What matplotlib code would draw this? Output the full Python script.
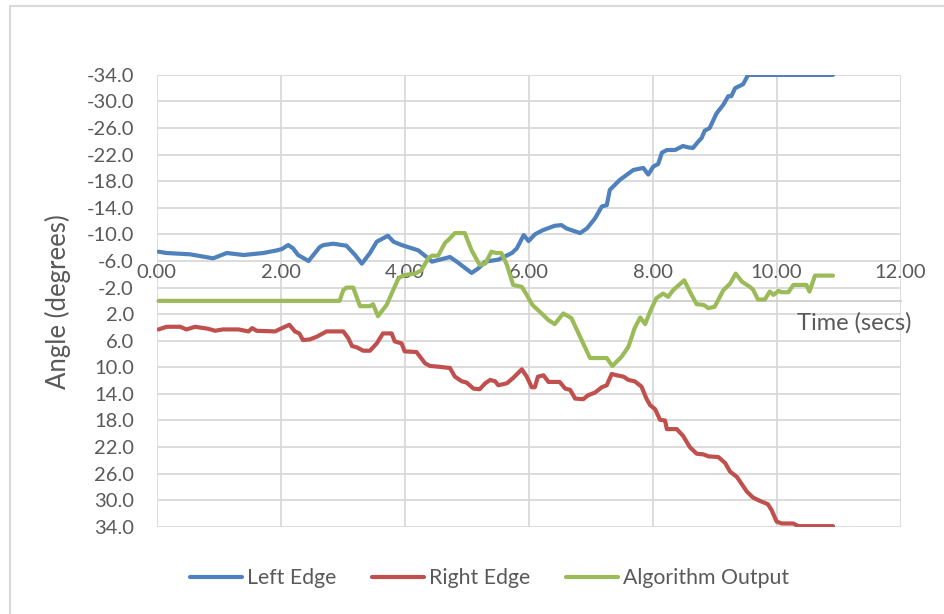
import numpy as np
import matplotlib
matplotlib.use("Agg")
import matplotlib.pyplot as plt
from matplotlib.lines import Line2D

# values (time in s, angle in degrees)
left_t = [0.03, 0.16, 0.54, 0.91, 1.13, 1.40, 1.72, 1.94, 2.02, 2.12, 2.20, 2.28,
          2.45, 2.63, 2.69, 2.85, 3.06, 3.20, 3.31, 3.44, 3.55, 3.73, 3.82, 3.95,
          4.22, 4.38, 4.44, 4.65, 4.73, 4.84, 5.08, 5.19, 5.30, 5.51, 5.73, 5.81,
          5.92, 6.00, 6.10, 6.22, 6.42, 6.53, 6.61, 6.83, 6.94, 7.07, 7.18, 7.26,
          7.31, 7.47, 7.69, 7.85, 7.93, 8.01, 8.09, 8.15, 8.23, 8.36, 8.49, 8.57,
          8.65, 8.74, 8.79, 8.84, 8.92, 9.03, 9.14, 9.22, 9.27, 9.33, 9.46, 9.54,
          10.91]
left_deg = [-7.4, -7.2, -7.0, -6.4, -7.2, -6.9, -7.2, -7.6, -7.8, -8.4, -7.9, -6.9,
            -6.0, -8.1, -8.4, -8.6, -8.3, -6.9, -5.6, -7.2, -8.9, -9.8, -8.9, -8.4,
            -7.6, -6.4, -5.9, -6.4, -6.6, -5.9, -4.2, -4.9, -5.9, -6.2, -7.2, -7.9,
            -9.9, -9.0, -10.0, -10.6, -11.3, -11.4, -10.9, -10.2, -10.9, -12.4, -14.2, -14.4,
            -16.7, -18.2, -19.7, -20.0, -19.0, -20.2, -20.6, -22.3, -22.7, -22.7, -23.3, -23.1,
            -23.0, -24.0, -24.5, -25.6, -26.0, -28.2, -29.5, -30.8, -30.8, -32.0, -32.6, -34.0,
            -34.0]

right_t = [0.03, 0.16, 0.38, 0.48, 0.62, 0.83, 0.94, 1.07, 1.32, 1.48, 1.54, 1.61,
           1.91, 2.02, 2.14, 2.23, 2.30, 2.36, 2.47, 2.58, 2.74, 3.01, 3.09, 3.15,
           3.23, 3.33, 3.44, 3.55, 3.65, 3.79, 3.84, 3.95, 4.00, 4.19, 4.33, 4.41,
           4.54, 4.73, 4.81, 4.92, 5.00, 5.11, 5.21, 5.30, 5.38, 5.46, 5.51, 5.65,
           5.75, 5.89, 5.97, 6.05, 6.10, 6.15, 6.24, 6.32, 6.50, 6.59, 6.67, 6.75,
           6.88, 6.96, 7.07, 7.18, 7.26, 7.34, 7.42, 7.53, 7.61, 7.71, 7.82, 7.90,
           7.96, 8.04, 8.12, 8.20, 8.23, 8.39, 8.49, 8.60, 8.71, 8.82, 8.90, 9.06,
           9.17, 9.25, 9.36, 9.44, 9.52, 9.62, 9.73, 9.86, 9.92, 10.00, 10.08, 10.27,
           10.35, 10.91]
right_deg = [4.3, 3.9, 3.9, 4.3, 3.9, 4.2, 4.5, 4.3, 4.3, 4.6, 4.1, 4.5,
             4.6, 4.1, 3.6, 4.6, 4.9, 5.9, 5.8, 5.4, 4.6, 4.6, 5.6, 6.8,
             7.0, 7.5, 7.5, 6.4, 4.9, 4.9, 6.1, 6.4, 7.6, 7.7, 9.4, 9.8,
             9.9, 10.1, 11.4, 12.1, 12.3, 13.2, 13.3, 12.4, 11.9, 12.1, 12.7, 12.4,
             11.6, 10.3, 11.4, 13.0, 13.0, 11.4, 11.2, 12.2, 12.2, 13.2, 13.4, 14.7,
             14.8, 14.2, 13.8, 13.0, 12.7, 11.0, 11.2, 11.4, 11.9, 12.1, 12.9, 14.7,
             15.7, 16.3, 17.9, 18.0, 19.3, 19.3, 20.3, 22.0, 23.0, 23.1, 23.4, 23.5,
             24.4, 25.7, 26.5, 27.6, 28.7, 29.6, 30.1, 30.6, 31.5, 33.2, 33.5, 33.5,
             33.9, 33.9]

algo_t = [0.03, 2.95, 3.01, 3.06, 3.17, 3.28, 3.44, 3.49, 3.57, 3.71, 3.79, 3.90,
          4.00, 4.17, 4.27, 4.38, 4.44, 4.54, 4.65, 4.73, 4.81, 4.97, 5.08, 5.21,
          5.30, 5.40, 5.48, 5.56, 5.65, 5.75, 5.89, 5.97, 6.06, 6.21, 6.32, 6.42,
          6.56, 6.69, 6.83, 6.99, 7.26, 7.35, 7.50, 7.61, 7.71, 7.80, 7.88, 7.96,
          8.06, 8.17, 8.25, 8.33, 8.51, 8.60, 8.71, 8.82, 8.90, 9.00, 9.14, 9.25,
          9.34, 9.44, 9.57, 9.62, 9.70, 9.81, 9.89, 9.95, 10.03, 10.08, 10.19, 10.27,
          10.48, 10.53, 10.62, 10.91]
algo_deg = [0.0, 0.0, -1.6, -2.0, -2.0, 0.8, 0.8, 0.5, 2.3, 0.6, -1.1, -3.4,
            -3.9, -4.1, -4.6, -6.4, -6.8, -6.8, -8.7, -9.4, -10.2, -10.2, -7.6, -5.4,
            -5.6, -7.4, -7.2, -7.2, -5.4, -2.4, -2.1, -0.9, 0.6, 1.9, 2.9, 3.5,
            1.9, 2.6, 5.4, 8.6, 8.6, 9.8, 8.4, 6.9, 4.1, 2.5, 3.5, 1.6,
            -0.4, -1.1, -0.6, -1.6, -3.1, -1.4, 0.5, 0.6, 1.1, 0.9, -1.6, -2.6,
            -4.1, -2.9, -2.1, -1.7, -0.2, -0.2, -1.4, -0.9, -1.5, -1.3, -1.3, -2.4,
            -2.4, -1.4, -3.8, -3.8]

x_ticks = [0, 2, 4, 6, 8, 10, 12]
y_ticks = [-34, -30, -26, -22, -18, -14, -10, -6, -2, 2, 6, 10, 14, 18, 22, 26, 30, 34]

TXT = "#595959"
GRID = "#D9D9D9"
plt.rcParams["font.family"] = ["Lato", "DejaVu Sans"]

fig = plt.figure(figsize=(9.44, 6.14), dpi=100)
ax = fig.add_axes([0.166, 0.142, 0.788, 0.736])

series = [
    (left_t, left_deg, "#4F81BD", "Left Edge"),
    (right_t, right_deg, "#C0504D", "Right Edge"),
    (algo_t, algo_deg, "#9BBB59", "Algorithm Output"),
]
for t, d, col, lab in series:
    ax.plot(t, d, color=col, lw=3, label=lab,
            solid_joinstyle="round", solid_capstyle="round", zorder=3)

ax.set_xlim(0, 12)
ax.set_ylim(34, -34)
ax.set_xticks(x_ticks)
ax.set_xticklabels([f"{v:.2f}" for v in x_ticks])
ax.set_yticks(y_ticks)
ax.set_yticklabels([f"{v:.1f}" for v in y_ticks])
ax.grid(color=GRID, lw=1.3, zorder=0)
ax.set_axisbelow(True)

# category axis crosses at 0, labels sit above it (reversed value axis)
for s in ["left", "right", "bottom"]:
    ax.spines[s].set_visible(False)
ax.spines["top"].set_position(("data", 0))
ax.spines["top"].set_color("#CFCFCF")
ax.spines["top"].set_linewidth(1.3)
ax.xaxis.set_ticks_position("top")
ax.tick_params(axis="x", length=0, pad=14, labelsize=14.5, labelcolor=TXT)
ax.tick_params(axis="y", length=0, pad=16.5, labelsize=14.5, labelcolor=TXT)

fig.text(58 / 944, 1 - 302 / 614, "Angle (degrees)", fontsize=18.5, color=TXT,
         rotation=90, ha="center", va="center")
fig.text(854 / 944, 1 - 323 / 614, "Time (secs)", fontsize=17, color=TXT,
         ha="center", va="center")

leg = fig.legend(loc="center", bbox_to_anchor=(0.5185, 1 - 578 / 614), ncol=3,
                 frameon=False, fontsize=15.3, handlelength=2.45, handletextpad=0.22,
                 columnspacing=1.7)
for txt in leg.get_texts():
    txt.set_color(TXT)

# chart area border (only top and left fall inside the picture)
fig.add_artist(Line2D([10 / 944, 10 / 944, 1.01], [-0.01, 1 - 6 / 614, 1 - 6 / 614],
                      transform=fig.transFigure, color=GRID, lw=1.5))

fig.savefig("out.png", dpi=100, facecolor="white")
